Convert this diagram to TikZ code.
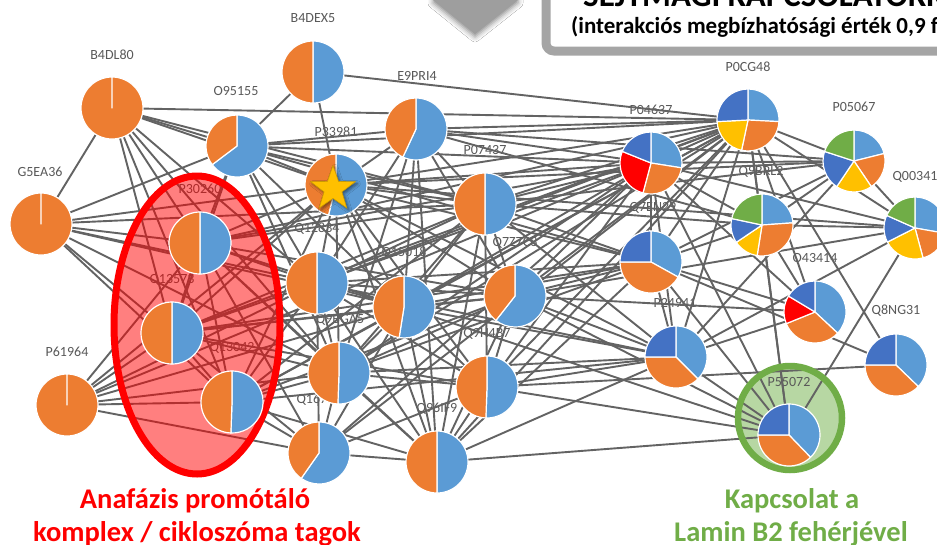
\documentclass[tikz,border=0pt]{standalone}
\usepackage{fontspec}
\setmainfont{Carlito}
\usetikzlibrary{shapes.geometric,shadows.blur}
\definecolor{cOr}{HTML}{ED7D31}
\definecolor{cLb}{HTML}{5B9BD5}
\definecolor{cDb}{HTML}{4472C4}
\definecolor{cYe}{HTML}{FFC000}
\definecolor{cGr}{HTML}{70AD47}
\definecolor{cGrL}{HTML}{B7D7A3}
\definecolor{cRe}{HTML}{FF0000}
\definecolor{cEdge}{HTML}{636363}
\definecolor{cLbl}{HTML}{595959}
\definecolor{cBox}{HTML}{A5A5A5}
\definecolor{cArrow}{HTML}{9E9E9E}
\definecolor{cStarD}{HTML}{C99A00}

\newcommand\drawpie[2]{%
  \foreach \pa/\pb/\pc in {#2}{%
    \pgfmathsetmacro\pSa{\pa-90}\pgfmathsetmacro\pEa{\pb-90}%
    \filldraw[fill=\pc, draw=white, line width=1.2pt, line join=round]
      (#1.center) -- ++(\pSa:31) arc[start angle=\pSa, end angle=\pEa, radius=31] -- cycle;
  }%
}

\begin{document}
\begin{tikzpicture}[x=1pt,y=-1pt,
  pienode/.style={circle,minimum size=62pt,inner sep=0pt},
  lbl/.style={text=cLbl,font=\fontsize{14}{16}\selectfont,inner sep=0pt},
  conn/.style={draw=cEdge,line width=1.9pt}]
\clip (0,0) rectangle (937,544);
\fill[white] (0,0) rectangle (937,544);

% top arrow tip and title box
\fill[cArrow, blur shadow={shadow xshift=0pt,shadow yshift=-3pt,shadow blur radius=5pt,shadow opacity=45}] (433,-10) -- (518,-10) -- (518,0) -- (475,34) -- (433,0) -- cycle;
\draw[cBox, line width=9pt, rounded corners=8pt, fill=white] (546,-40) rectangle (1000,51);
\node[anchor=base west, font=\bfseries\fontsize{33}{36}\selectfont, inner sep=0pt] (ttl) at (583,6) {SEJTMAGI KAPCSOLATOKRÓL};
\node[anchor=base west, font=\bfseries\fontsize{23}{26}\selectfont, inner sep=0pt] (sub) at (571,33) {(interakciós megbízhatósági érték 0,9 felett)};

% green highlight fill
\fill[cGrL] (790,418) circle[radius=52];

% pie nodes
\node[pienode] (B4DEX5) at (313,72) {};
\node[pienode] (B4DL80) at (112,108) {};
\node[pienode] (O95155) at (237,146) {};
\node[pienode] (E9PRI4) at (416,129) {};
\node[pienode] (P33981) at (336,185) {};
\node[pienode] (P07437) at (485,204) {};
\node[pienode] (G5EA36) at (41,224) {};
\node[pienode] (P30260) at (200,243) {};
\node[pienode] (Q13573) at (172,333) {};
\node[pienode] (Q13042) at (232,402) {};
\node[pienode] (P61964) at (67,405) {};
\node[pienode] (Q12834) at (317,283) {};
\node[pienode] (Q15018) at (404,307) {};
\node[pienode] (Q77) at (515,296) {};
\node[pienode] (QGA5) at (339,373) {};
\node[pienode] (Q16) at (319,453) {};
\node[pienode] (Q96IF9) at (437,462) {};
\node[pienode] (Q9H4B7) at (487,387) {};
\node[pienode] (P0CG48) at (748,120) {};
\node[pienode] (P04637) at (651,163) {};
\node[pienode] (P05067) at (854,161) {};
\node[pienode] (Q00341) at (915,228) {};
\node[pienode] (Q9BRL2) at (762,225) {};
\node[pienode] (Q7EN) at (651,262) {};
\node[pienode] (P24941) at (676,357) {};
\node[pienode] (O43414) at (815,312) {};
\node[pienode] (Q8NG31) at (896,365) {};
\node[pienode] (P55072) at (789,435) {};

% labels
\node[lbl] (lB4DEX5) at (313,18) {B4DEX5};
\node[lbl] (lB4DL80) at (112,55) {B4DL80};
\node[lbl] (lO95155) at (236,91) {O95155};
\node[lbl] (lE9PRI4) at (417,76) {E9PRI4};
\node[lbl] (lP33981) at (336,132) {P33981};
\node[lbl] (lP07437) at (485,150) {P07437};
\node[lbl] (lG5EA36) at (40,172) {G5EA36};
\node[lbl] (lP30260) at (200,189) {P30260};
\node[lbl] (lQ13573) at (172,280) {Q13573};
\node[lbl] (lQ13042) at (232,348) {Q13042};
\node[lbl] (lP61964) at (67,352) {P61964};
\node[lbl] (lQ12834) at (317,229) {Q12834};
\node[lbl] (lQ15018) at (404,253) {Q15018};
\node[lbl] (lQ77) at (515,243) {Q7Z7C8};
\node[lbl] (lQGA5) at (340,320) {Q9BGA5};
\node[lbl] (lQ16) at (319,400) {Q16763};
\node[lbl] (lQ96IF9) at (437,409) {Q96IF9};
\node[lbl] (lQ9H4B7) at (487,334) {Q9H4B7};
\node[lbl] (lP0CG48) at (748,67) {P0CG48};
\node[lbl] (lP04637) at (651,110) {P04637};
\node[lbl] (lP05067) at (854,107) {P05067};
\node[lbl] (lQ00341) at (915,177) {Q00341};
\node[lbl] (lQ9BRL2) at (761,172) {Q9BRL2};
\node[lbl] (lQ7EN) at (653,208) {Q7EN29};
\node[lbl] (lP24941) at (675,303) {P24941};
\node[lbl] (lO43414) at (815,258) {O43414};
\node[lbl] (lQ8NG31) at (896,311) {Q8NG31};
\node[lbl] (lP55072) at (789,382) {P55072};

% connectors
\foreach \a/\b in {
 B4DL80/G5EA36, B4DL80/O95155, B4DL80/P33981, B4DL80/P0CG48, B4DL80/P30260, B4DL80/Q13573, B4DL80/Q13042, B4DL80/Q12834, B4DL80/QGA5, B4DL80/P07437,
 B4DEX5/P0CG48, B4DEX5/P33981, B4DEX5/O95155,
 O95155/P33981, O95155/P0CG48, O95155/P04637, O95155/P07437, O95155/Q12834, O95155/QGA5, O95155/P30260, O95155/Q13573, O95155/G5EA36, O95155/Q15018, O95155/E9PRI4, O95155/Q7EN,
 E9PRI4/P33981, E9PRI4/P0CG48, E9PRI4/P04637, E9PRI4/P05067, E9PRI4/Q9BRL2, E9PRI4/Q15018, E9PRI4/P07437, E9PRI4/Q96IF9, E9PRI4/Q77, E9PRI4/QGA5, E9PRI4/Q12834,
 P33981/P0CG48, P33981/P04637, P33981/Q7EN, P33981/P07437, P33981/Q12834, P33981/QGA5, P33981/Q15018, P33981/Q77, P33981/Q9H4B7, P33981/Q96IF9, P33981/P30260, P33981/Q13573, P33981/Q13042, P33981/G5EA36, P33981/P61964, P33981/P24941, P33981/Q00341, P33981/P05067,
 P07437/P0CG48, P07437/P04637, P07437/Q7EN, P07437/P24941, P07437/Q12834, P07437/Q15018, P07437/Q77, P07437/QGA5, P07437/Q96IF9, P07437/Q9H4B7, P07437/P30260, P07437/Q13042, P07437/Q13573, P07437/P05067, P07437/Q9BRL2,
 G5EA36/P30260, G5EA36/Q13573, G5EA36/Q13042, G5EA36/Q12834, G5EA36/QGA5, G5EA36/Q15018, G5EA36/P07437,
 P30260/Q13573, P30260/Q13042, P30260/Q12834, P30260/QGA5, P30260/Q15018, P30260/Q77, P30260/P0CG48, P30260/P04637, P30260/P61964, P30260/Q16, P30260/Q96IF9,
 Q13573/Q13042, Q13573/Q12834, Q13573/QGA5, Q13573/Q15018, Q13573/Q77, Q13573/P61964, Q13573/P0CG48, Q13573/Q7EN, Q13573/Q16, Q13573/Q9H4B7,
 Q13042/Q12834, Q13042/QGA5, Q13042/Q15018, Q13042/Q77, Q13042/P61964, Q13042/Q16, Q13042/Q96IF9, Q13042/P0CG48, Q13042/P24941,
 P61964/Q12834, P61964/QGA5, P61964/Q15018, P61964/Q16, P61964/P04637,
 Q12834/Q15018, Q12834/QGA5, Q12834/Q77, Q12834/P0CG48, Q12834/P04637, Q12834/Q7EN, Q12834/P24941, Q12834/Q96IF9, Q12834/Q9H4B7, Q12834/Q16,
 Q15018/Q77, Q15018/QGA5, Q15018/Q96IF9, Q15018/Q9H4B7, Q15018/P0CG48, Q15018/P04637, Q15018/Q7EN, Q15018/P24941, Q15018/Q16, Q15018/P55072,
 Q77/P0CG48, Q77/P04637, Q77/Q7EN, Q77/P24941, Q77/Q96IF9, Q77/Q9H4B7, Q77/QGA5, Q77/O43414, Q77/Q00341, Q77/P55072,
 QGA5/Q16, QGA5/Q96IF9, QGA5/Q9H4B7, QGA5/P0CG48, QGA5/P04637, QGA5/P24941, QGA5/Q7EN,
 Q16/Q96IF9, Q16/Q9H4B7, Q16/P0CG48, Q16/P04637,
 Q96IF9/Q9H4B7, Q96IF9/P55072, Q96IF9/P24941, Q96IF9/P0CG48, Q96IF9/Q7EN,
 Q9H4B7/P24941, Q9H4B7/P55072, Q9H4B7/P0CG48, Q9H4B7/P04637, Q9H4B7/Q8NG31,
 P0CG48/P04637, P0CG48/P05067, P0CG48/Q9BRL2, P0CG48/Q00341, P0CG48/Q7EN, P0CG48/P24941, P0CG48/O43414, P0CG48/P55072, P0CG48/Q8NG31,
 P04637/P05067, P04637/Q9BRL2, P04637/Q00341, P04637/Q7EN, P04637/P24941, P04637/O43414, P04637/P55072,
 P05067/Q9BRL2, P05067/Q00341, P05067/Q7EN, P05067/P24941,
 Q9BRL2/Q00341, Q9BRL2/Q7EN, Q9BRL2/P55072, Q9BRL2/O43414,
 Q00341/P24941, Q00341/P55072,
 Q7EN/P24941, Q7EN/P55072, Q7EN/Q8NG31, Q7EN/O43414,
 P24941/P55072, P24941/O43414}
 {\draw[conn] (\a.center) -- (\b.center);}

% red ellipse (APC/C)
\draw[cRe, line width=7pt, fill=cRe, fill opacity=0.5, draw opacity=1] (197,325) ellipse[x radius=83, y radius=149];
% green ring (Lamin B2)
\draw[cGr, line width=6.5pt] (790,418) circle[radius=52];

% pies
\drawpie{B4DEX5}{0/180/cLb, 180/360/cOr}
\drawpie{B4DL80}{0/360/cOr}
\drawpie{O95155}{0/233/cLb, 233/360/cOr}
\drawpie{E9PRI4}{0/205/cLb, 205/360/cOr}
\drawpie{P33981}{0/194/cLb, 194/360/cOr}
\drawpie{P07437}{0/180/cLb, 180/360/cOr}
\drawpie{G5EA36}{0/360/cOr}
\drawpie{P30260}{0/180/cLb, 180/360/cOr}
\drawpie{Q13573}{0/180/cLb, 180/360/cOr}
\drawpie{Q13042}{0/182/cLb, 182/360/cOr}
\drawpie{P61964}{0/360/cOr}
\drawpie{Q12834}{0/180/cLb, 180/360/cOr}
\drawpie{Q15018}{0/189/cLb, 189/360/cOr}
\drawpie{Q77}{0/218/cLb, 218/360/cOr}
\drawpie{QGA5}{0/182/cLb, 182/360/cOr}
\drawpie{Q16}{0/215/cLb, 215/360/cOr}
\drawpie{Q96IF9}{0/180/cLb, 180/360/cOr}
\drawpie{Q9H4B7}{0/182/cLb, 182/360/cOr}
\drawpie{P0CG48}{0/93/cLb, 93/192/cOr, 192/267/cYe, 267/360/cDb}
\drawpie{P04637}{0/99/cLb, 99/195/cOr, 195/292/cRe, 292/360/cDb}
\drawpie{P05067}{0/76/cLb, 76/146/cOr, 146/214/cYe, 214/288/cDb, 288/360/cGr}
\drawpie{Q00341}{0/100/cLb, 100/165/cOr, 165/243/cYe, 243/294/cDb, 294/360/cGr}
\drawpie{Q9BRL2}{0/86/cLb, 86/189/cOr, 189/236/cYe, 236/282/cDb, 282/360/cGr}
\drawpie{Q7EN}{0/119/cLb, 119/270/cOr, 270/360/cDb}
\drawpie{P24941}{0/135/cLb, 135/270/cOr, 270/360/cDb}
\drawpie{O43414}{0/133/cLb, 133/248/cOr, 248/301/cRe, 301/360/cDb}
\drawpie{Q8NG31}{0/134/cLb, 134/270/cOr, 270/360/cDb}
\drawpie{P55072}{0/136/cLb, 136/270/cOr, 270/360/cDb}

% star on P33981
\node[star, star points=5, star point ratio=2.5, minimum size=47pt, inner sep=0pt, fill=cYe, draw=cStarD, line width=0.6pt,
  blur shadow={shadow xshift=2pt,shadow yshift=-2pt,shadow blur radius=3pt,shadow opacity=50}] (star) at (333,189) {};

% captions
\node[anchor=base, font=\bfseries\fontsize{28.5}{33}\selectfont, text=cRe, inner sep=0pt] (capA1) at (195,508) {Anafázis promótáló};
\node[anchor=base, font=\bfseries\fontsize{28.5}{33}\selectfont, text=cRe, inner sep=0pt] (capA2) at (197,541) {komplex / cikloszóma tagok};
\node[anchor=base, font=\bfseries\fontsize{28.5}{33}\selectfont, text=cGr, inner sep=0pt] (capB1) at (792,508) {Kapcsolat a};
\node[anchor=base, font=\bfseries\fontsize{28.5}{33}\selectfont, text=cGr, inner sep=0pt] (capB2) at (791,541) {Lamin B2 fehérjével};
\end{tikzpicture}
\end{document}
